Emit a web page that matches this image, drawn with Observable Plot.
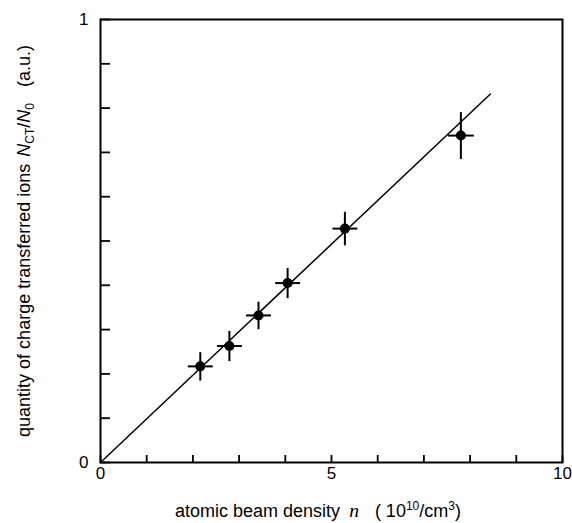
<!DOCTYPE html>
<html>
<head>
<meta charset="utf-8">
<script src="https://cdn.jsdelivr.net/npm/d3@7"></script>
<script src="https://cdn.jsdelivr.net/npm/@observablehq/plot@0.6"></script>
<style>
  html, body { margin: 0; padding: 0; background: #fff; }
  #chart { width: 572px; height: 523px; }
</style>
</head>
<body>
<div id="chart"></div>
<script>
// Measured points
const density = [2.16, 2.79, 3.42, 4.05, 5.29, 7.80];
const quantity = [0.217, 0.263, 0.332, 0.405, 0.528, 0.738];
const densityErr = [0.27, 0.27, 0.27, 0.27, 0.27, 0.28];
const quantityErr = [0.032, 0.034, 0.031, 0.034, 0.038, 0.053];
// Linear fit line endpoints
const fitX = [0, 8.44];
const fitY = [0, 0.832];
// Ticks
const xTicks = [0, 1, 2, 3, 4, 5, 6, 7, 8, 9, 10];
const xTickLabels = [0, 5, 10];
const yTicks = [0, 0.1, 0.2, 0.3, 0.4, 0.5, 0.6, 0.7, 0.8, 0.9, 1];
const yTickLabels = [0, 1];

const pts = density.map((d, i) => ({x: d, y: quantity[i], ex: densityErr[i], ey: quantityErr[i]}));
const fit = fitX.map((d, i) => ({x: d, y: fitY[i]}));

const chart = Plot.plot({
  width: 572,
  height: 523,
  marginLeft: 100,
  marginRight: 10,
  marginTop: 19,
  marginBottom: 61,
  style: {fontFamily: "'Liberation Sans', Arial, sans-serif", fontSize: "17px", color: "#000", background: "#fff"},
  x: {domain: [0, 10]},
  y: {domain: [0, 1]},
  marks: [
    Plot.axisX({ticks: xTicks, tickSize: -7, tickFormat: () => "", label: null, strokeWidth: 1.8}),
    Plot.axisX({ticks: xTickLabels, tickSize: 0, tickPadding: 4, label: null, fontSize: 17, tickFormat: d => String(d)}),
    Plot.axisY({ticks: yTicks, tickSize: -10, tickFormat: () => "", label: null, strokeWidth: 1.8}),
    Plot.axisY({ticks: yTickLabels, tickSize: 0, tickPadding: 12, label: null, fontSize: 17, tickFormat: d => String(d)}),
    Plot.frame({stroke: "#000", strokeWidth: 2}),
    Plot.line(fit, {x: "x", y: "y", stroke: "#000", strokeWidth: 1.5}),
    Plot.link(pts, {x1: d => d.x - d.ex, x2: d => d.x + d.ex, y1: "y", y2: "y", stroke: "#000", strokeWidth: 2}),
    Plot.link(pts, {x1: "x", x2: "x", y1: d => d.y - d.ey, y2: d => d.y + d.ey, stroke: "#000", strokeWidth: 2}),
    Plot.dot(pts, {x: "x", y: "y", r: 5, fill: "#000"})
  ]
});
document.getElementById("chart").appendChild(chart);

const svg = d3.select(chart);
// X axis title
const xt = svg.append("text")
  .attr("x", 318).attr("y", 517)
  .attr("text-anchor", "middle")
  .attr("font-size", 18)
  .attr("fill", "#000");
xt.append("tspan").text("atomic beam density ");
xt.append("tspan").attr("dx", 4).attr("font-style", "italic").attr("font-family", "'Liberation Serif', serif").attr("font-size", 19.5).text("n");
xt.append("tspan").attr("dx", 16).text("( 10");
xt.append("tspan").attr("dy", -7).attr("font-size", 12).text("10");
xt.append("tspan").attr("dy", 7).text("/cm");
xt.append("tspan").attr("dy", -7).attr("font-size", 12).text("3");
xt.append("tspan").attr("dy", 7).text(")");

// Y axis title
const yt = svg.append("text")
  .attr("transform", "translate(30,241) rotate(-90)")
  .attr("text-anchor", "middle")
  .attr("font-size", 18)
  .attr("fill", "#000");
yt.append("tspan").text("quantity of charge transferred ions ");
yt.append("tspan").attr("dx", 2).attr("font-style", "italic").text("N");
yt.append("tspan").attr("dy", 4).attr("font-size", 12).text("CT");
yt.append("tspan").attr("dy", -4).text("/");
yt.append("tspan").attr("font-style", "italic").text("N");
yt.append("tspan").attr("dy", 4).attr("font-size", 12).text("0");
yt.append("tspan").attr("dy", -4).attr("dx", 16).text("(a.u.)");
</script>
</body>
</html>
